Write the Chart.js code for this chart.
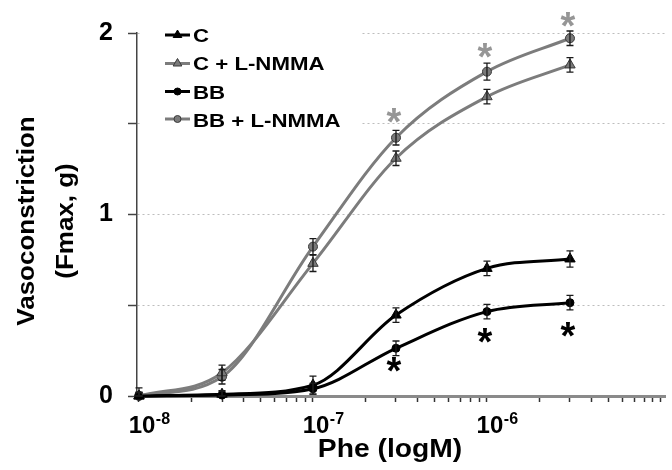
<!DOCTYPE html>
<html><head><meta charset="utf-8">
<script src="https://cdn.jsdelivr.net/npm/chart.js@4/dist/chart.umd.min.js"></script>
<style>html,body{margin:0;padding:0;background:#fff}#wrap{width:672px;height:470px}</style>
</head><body><div id="wrap"><canvas id="c" width="672" height="470"></canvas></div>
<script>
// ---- data ----
const concentrations = [1e-8, 3e-8, 1e-7, 3e-7, 1e-6, 3e-6];
const seriesNames = ['C', 'C + L-NMMA', 'BB', 'BB + L-NMMA'];
const valuesC   = [0.00, 0.010, 0.06, 0.446, 0.703, 0.755];
const errorsC   = [0.045, 0.02, 0.05, 0.04, 0.04, 0.045];
const valuesCL  = [0.00, 0.128, 0.731, 1.31, 1.649, 1.824];
const errorsCL  = [0.02, 0.042, 0.045, 0.04, 0.04, 0.04];
const valuesBB  = [0.00, 0.005, 0.04, 0.263, 0.465, 0.514];
const errorsBB  = [0.02, 0.02, 0.03, 0.04, 0.04, 0.04];
const valuesBBL = [0.00, 0.106, 0.823, 1.423, 1.787, 1.971];
const errorsBBL = [0.02, 0.04, 0.044, 0.04, 0.047, 0.04];
const xTickDecades = [1e-8, 1e-7, 1e-6];
const xTickBase = ['10', '10', '10'];
const xTickExp = ['-8', '-7', '-6'];
const yTickLabels = [0, 1, 2];
const sigX = [3e-7, 1e-6, 3e-6];
const sigGrayY = [1.543, 1.902, 2.075];
const sigBlackY = [0.171, 0.331, 0.369];
const xTitle = 'Phe (logM)';
const yTitle = ['Vasoconstriction', '(Fmax, g)'];

const GRAY = '#7c7c7c';
const FONT = '"Liberation Sans", Arial, sans-serif';

function mk(label, vals, errs, color, fill, border, style, r) {
  return {
    label, data: concentrations.map((x, i) => ({x, y: vals[i]})), errs,
    borderColor: color, borderWidth: 3, backgroundColor: fill,
    pointBackgroundColor: fill, pointBorderColor: border, pointBorderWidth: 1,
    pointStyle: style, pointRadius: r, cubicInterpolationMode: 'monotone',
    clip: false, fill: false
  };
}
const datasets = [
  mk(seriesNames[0], valuesC, errorsC, '#000', '#000', '#000', 'triangle', 6),
  mk(seriesNames[1], valuesCL, errorsCL, GRAY, '#7a7a7a', '#3a3a3a', 'triangle', 6),
  mk(seriesNames[2], valuesBB, errorsBB, '#000', '#000', '#000', 'circle', 4),
  mk(seriesNames[3], valuesBBL, errorsBBL, GRAY, '#7a7a7a', '#3a3a3a', 'circle', 4.5)
];

function txt(ctx, s, x, y, size, o) {
  o = o || {};
  ctx.save();
  ctx.translate(x, y);
  if (o.rot) ctx.rotate(o.rot);
  ctx.scale(o.sx || 1, 1);
  ctx.font = 'bold ' + size + 'px ' + FONT;
  ctx.textAlign = o.align || 'left';
  ctx.textBaseline = 'alphabetic';
  ctx.fillStyle = o.color || '#000';
  ctx.fillText(s, 0, 0);
  ctx.restore();
}

const errorBars = {
  id: 'errorBars',
  afterDatasetsDraw(chart) {
    const {ctx, scales: {x, y}} = chart;
    ctx.save();
    ctx.strokeStyle = '#1a1a1a';
    ctx.lineWidth = 1.3;
    chart.data.datasets.forEach(ds => {
      ds.data.forEach((p, i) => {
        const e = ds.errs[i];
        const px = x.getPixelForValue(p.x);
        const y1 = y.getPixelForValue(p.y + e), y2 = y.getPixelForValue(Math.max(0, p.y - e));
        ctx.beginPath();
        ctx.moveTo(px, y1); ctx.lineTo(px, y2);
        ctx.moveTo(px - 3.5, y1); ctx.lineTo(px + 3.5, y1);
        ctx.moveTo(px - 3.5, y2); ctx.lineTo(px + 3.5, y2);
        ctx.stroke();
      });
    });
    ctx.restore();
  }
};

const legendBox = {
  id: 'legendBox',
  beforeDatasetsDraw(chart) {
    const ctx = chart.ctx;
    ctx.save();
    ctx.fillStyle = '#fff';
    ctx.fillRect(140, 0, 222, 136);
    const lineY = [35, 63.5, 91.5, 119];
    const baseY = [41.5, 70, 98.5, 127];
    chart.data.datasets.forEach((ds, i) => {
      ctx.strokeStyle = ds.borderColor;
      ctx.lineWidth = 3;
      ctx.beginPath(); ctx.moveTo(165, lineY[i]); ctx.lineTo(190, lineY[i]); ctx.stroke();
      ctx.fillStyle = ds.pointBackgroundColor;
      ctx.strokeStyle = ds.pointBorderColor;
      ctx.lineWidth = 1;
      Chart.helpers.drawPoint(ctx, {pointStyle: ds.pointStyle, radius: ds.pointStyle === 'triangle' ? 5 : 3.5, rotation: 0, borderWidth: 1}, 177.5, lineY[i]);
      txt(ctx, ds.label, 193, baseY[i], 19, {sx: 1.17});
    });
    ctx.restore();
  }
};

const annotations = {
  id: 'annotations',
  afterDraw(chart) {
    const {ctx, scales: {x, y}} = chart;
    // x tick labels with superscript
    xTickDecades.forEach((v, i) => {
      const px = x.getPixelForValue(v) + 3;
      ctx.save();
      ctx.font = 'bold 24px ' + FONT;
      const w = ctx.measureText(xTickBase[i]).width;
      ctx.restore();
      txt(ctx, xTickBase[i], px - w / 2, 433, 24);
      txt(ctx, xTickExp[i], px + w / 2 + 0.5, 424, 16);
    });
    // axis titles
    txt(ctx, xTitle, 390, 457, 25, {align: 'center', sx: 1.13});
    txt(ctx, yTitle[0], 34, 221, 23, {align: 'center', sx: 1.13, rot: -Math.PI / 2});
    txt(ctx, yTitle[1], 73, 221, 23, {align: 'center', sx: 1.13, rot: -Math.PI / 2});
    // significance asterisks
    const drawStar = (xv, yv, color) => {
      const px = x.getPixelForValue(xv), cy = y.getPixelForValue(yv);
      ctx.save();
      ctx.font = 'bold 38px ' + FONT;
      const m = ctx.measureText('*');
      const base = cy + (m.actualBoundingBoxAscent - m.actualBoundingBoxDescent) / 2;
      ctx.restore();
      txt(ctx, '*', px - 2, base, 38, {align: 'center', color});
    };
    sigX.forEach((xv, i) => {
      drawStar(xv, sigGrayY[i], '#969696');
      drawStar(xv, sigBlackY[i], '#000');
    });
  }
};

new Chart(document.getElementById('c'), {
  type: 'line',
  data: {datasets},
  options: {
    responsive: false, animation: false, devicePixelRatio: 1,
    layout: {padding: {top: 33, right: 0, left: 0, bottom: 0}},
    plugins: {legend: {display: false}, tooltip: {enabled: false}, title: {display: false}},
    scales: {
      x: {
        type: 'logarithmic', min: 0.974e-8, max: 1.055e-5,
        afterBuildTicks: s => {
          const t = [];
          for (let e = -8; e <= -5; e++) for (let m = 1; m < 10; m++) {
            const v = m * Math.pow(10, e);
            if (v >= s.min && v <= s.max) t.push({value: v});
          }
          s.ticks = t;
        },
        ticks: {display: false},
        grid: {drawOnChartArea: false, drawTicks: true, tickLength: 6, tickColor: '#333', tickWidth: 1.5},
        border: {color: '#8a8a8a', width: 3},
        afterFit: s => { s.height = 74; }
      },
      y: {
        min: 0, max: 2,
        afterBuildTicks: s => { s.ticks = [0, 0.5, 1, 1.5, 2].map(v => ({value: v})); },
        ticks: {
          callback: v => yTickLabels.includes(v) ? String(v) : '',
          font: {family: FONT, size: 25, weight: 'bold'}, color: '#000', padding: 15
        },
        grid: {color: '#bdbdbd', lineWidth: 1, tickColor: '#444', tickLength: 9, tickWidth: 1.5, tickBorderDash: []},
        border: {color: '#444', width: 1.5, dash: [2, 3]},
        afterFit: s => { s.width = 137; }
      }
    }
  },
  plugins: [legendBox, errorBars, annotations]
});
</script>
</body></html>
